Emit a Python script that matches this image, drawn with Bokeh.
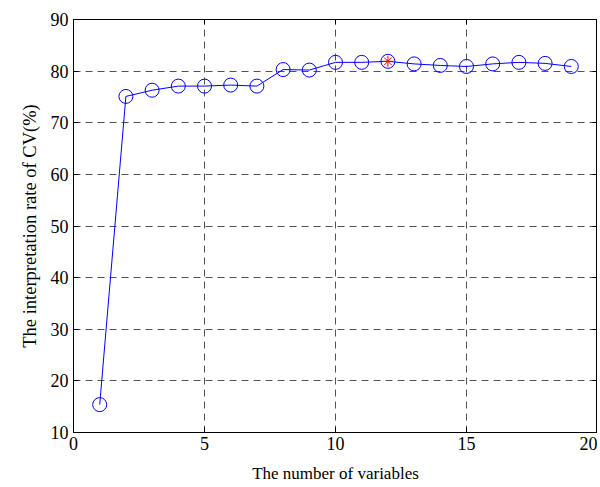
from bokeh.plotting import figure
from bokeh.models import LinearAxis, Range1d, FixedTicker
from bokeh.embed import file_html
from bokeh.resources import INLINE

n_vars = list(range(1, 20))
cv_rate = [15.4, 75.1, 76.3, 77.1, 77.1, 77.3, 77.1, 80.3, 80.2, 81.7,
           81.7, 81.9, 81.4, 81.1, 80.9, 81.4, 81.7, 81.5, 80.9]
best_x = [12]
best_y = [81.9]
x_ticks = [0, 5, 10, 15, 20]
y_ticks = [10, 20, 30, 40, 50, 60, 70, 80, 90]

FONT = "Liberation Serif"

p = figure(width=597, height=485, output_backend="svg", toolbar_location=None,
           x_range=Range1d(0, 20), y_range=Range1d(10, 90),
           x_axis_label="The number of variables",
           y_axis_label="The interpretation rate of CV(%)",
           min_border_left=73, min_border_right=0, min_border_top=19, min_border_bottom=50)
p.outline_line_color = "black"
p.outline_line_width = 1
p.background_fill_color = "white"
p.border_fill_color = "white"

for ax in (p.xaxis[0], p.yaxis[0]):
    ax.major_label_text_font = FONT
    ax.major_label_text_font_size = "18px"
    ax.major_label_text_color = "black"
    ax.axis_label_text_font = FONT
    ax.axis_label_text_font_size = "17px"
    ax.axis_label_text_font_style = "normal"
    ax.axis_label_text_color = "black"
    ax.major_tick_in = 5
    ax.major_tick_out = 0
    ax.minor_tick_line_color = None
    ax.axis_line_color = "black"
    ax.major_tick_line_color = "black"
p.yaxis[0].axis_label_text_font_size = "18.5px"
p.xaxis[0].ticker = FixedTicker(ticks=x_ticks)
p.yaxis[0].ticker = FixedTicker(ticks=y_ticks)
p.xaxis[0].major_label_standoff = 4
p.xaxis[0].axis_label_standoff = 11
p.yaxis[0].major_label_standoff = 5
p.yaxis[0].axis_label_standoff = 8

top = LinearAxis(ticker=FixedTicker(ticks=x_ticks), major_label_text_font_size="0px",
                 major_tick_in=5, major_tick_out=0, minor_tick_line_color=None,
                 major_label_standoff=0)
right = LinearAxis(ticker=FixedTicker(ticks=y_ticks), major_label_text_font_size="0px",
                   major_tick_in=5, major_tick_out=0, minor_tick_line_color=None,
                   major_label_standoff=0)
top.major_label_text_color = None
right.major_label_text_color = None
p.add_layout(top, "above")
p.add_layout(right, "right")

p.xgrid.ticker = FixedTicker(ticks=x_ticks)
p.ygrid.ticker = FixedTicker(ticks=y_ticks)
for g in (p.xgrid[0], p.ygrid[0]):
    g.grid_line_color = "#404040"
    g.grid_line_dash = "7 5"
    g.grid_line_width = 1
    g.grid_line_alpha = 0.9

p.line(n_vars, cv_rate, line_color="blue", line_width=1)
p.scatter(n_vars, cv_rate, marker="circle", size=14, fill_color=None,
          line_color="blue", line_width=1)
p.scatter(best_x, best_y, marker="asterisk", size=11, line_color="red", line_width=1)

open("out.html", "w").write(file_html(p, INLINE))
